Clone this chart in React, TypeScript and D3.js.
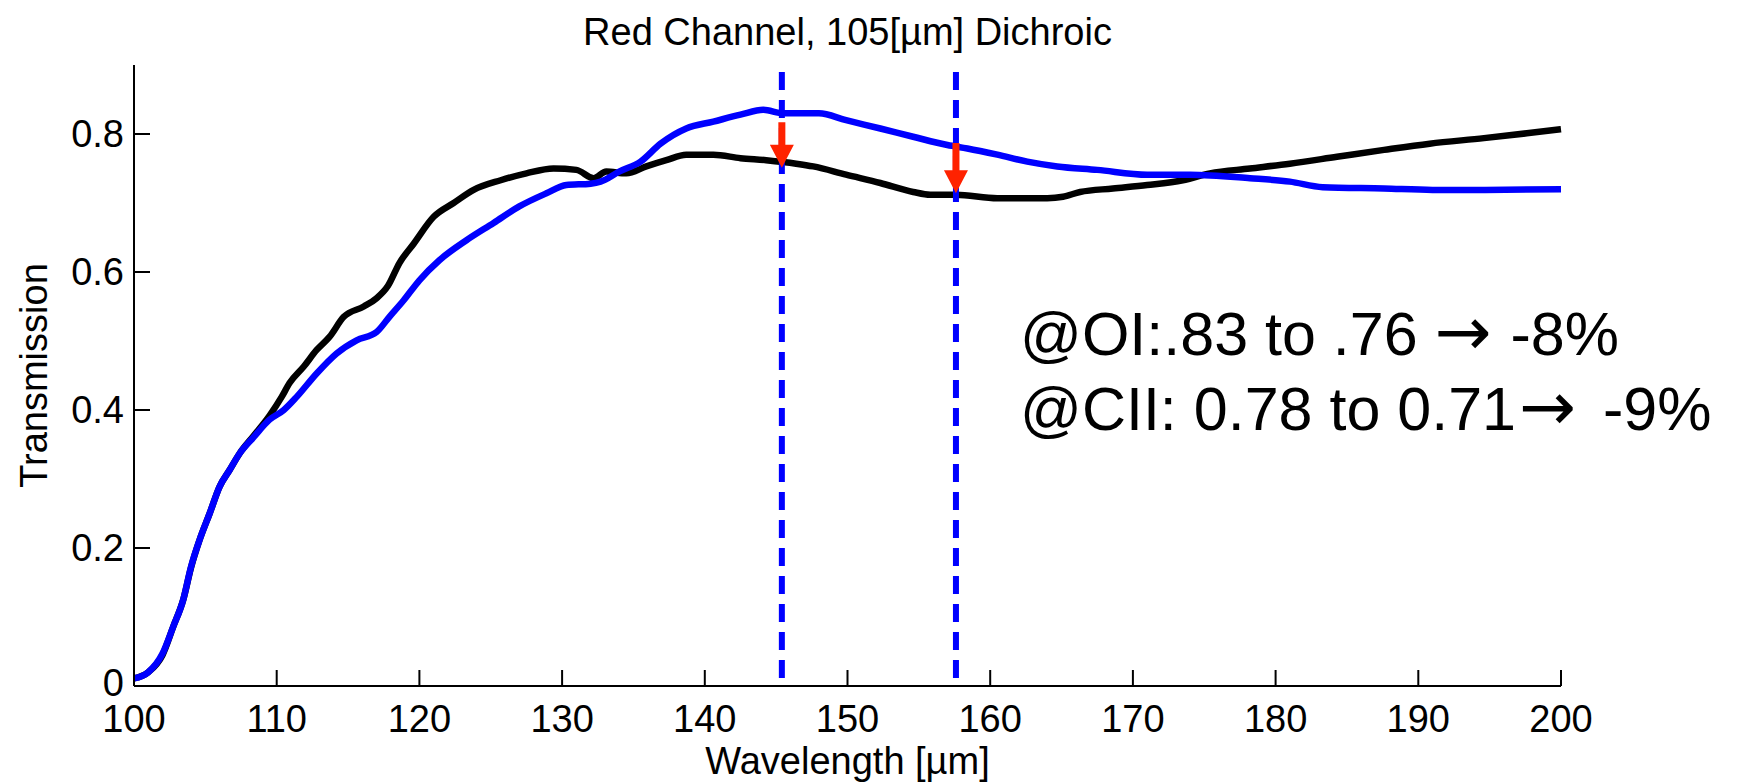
import React from 'react';
import * as d3 from 'd3';

// ---- Data ----
const blackWavelength = [
  100, 101, 102, 102.75, 103.45, 104, 104.6, 105.3, 106, 106.7, 107.4, 108.4, 109.5, 110.35, 110.9,
  111.9, 112.8, 113.7, 114.7, 116.1, 117, 117.8, 118.6, 119.6, 121, 122.4, 123.8, 125.7, 127.5,
  129.4, 131, 132.2, 133.1, 134.5, 135.9, 137.3, 138.7, 140.6, 142.5, 144.3, 146.4, 147.6, 149.9,
  152.3, 154.6, 155.8, 157.6, 160.5, 164, 165.1, 166.3, 168.6, 171, 173.5, 175.4, 178.2, 181,
  184.3, 187.6, 190.8, 194.6, 197.6, 200,
];
const blackTransmission = [
  0.011, 0.02, 0.045, 0.086, 0.125, 0.172, 0.212, 0.25, 0.289, 0.313, 0.337, 0.363, 0.392, 0.419, 0.439,
  0.463, 0.487, 0.506, 0.535, 0.55, 0.562, 0.58, 0.613, 0.641, 0.68, 0.7, 0.719, 0.733, 0.743,
  0.75, 0.748, 0.736, 0.7455, 0.743, 0.753, 0.762, 0.77, 0.77, 0.765, 0.762, 0.757, 0.753, 0.741,
  0.729, 0.716, 0.712, 0.712, 0.707, 0.707, 0.709, 0.716, 0.721, 0.726, 0.733, 0.743, 0.75, 0.757,
  0.767, 0.777, 0.786, 0.794, 0.801, 0.807,
];

const blueWavelength = [
  100, 101, 102, 102.75, 103.45, 104, 104.6, 105.3, 106, 106.7, 107.4, 108.4, 109.5, 110.5, 111.4,
  112.8, 114.2, 115.6, 117, 117.9, 118.9, 120, 121.4, 123.3, 125.2, 127, 128.9, 130.3, 132, 132.7,
  134, 135.5, 136.9, 138.7, 140.6, 142.5, 144.1, 145.5, 148, 149.9, 152.3, 154.6, 157, 158.4,
  160.5, 162.6, 164.7, 167.5, 171, 174, 178.2, 181, 183.3, 187.6, 191, 194.6, 200,
];
const blueTransmission = [
  0.011, 0.02, 0.047, 0.086, 0.125, 0.173, 0.212, 0.25, 0.289, 0.313, 0.337, 0.361, 0.386, 0.4, 0.419,
  0.453, 0.482, 0.501, 0.513, 0.535, 0.559, 0.588, 0.617, 0.646, 0.671, 0.695, 0.714, 0.726, 0.728, 0.731,
  0.7455, 0.76, 0.786, 0.808, 0.818, 0.828, 0.835, 0.83, 0.83, 0.82, 0.808, 0.796, 0.784, 0.779,
  0.77, 0.76, 0.753, 0.748, 0.741, 0.741, 0.736, 0.731, 0.723, 0.721, 0.719, 0.719, 0.72,
];

const xTicks = [100, 110, 120, 130, 140, 150, 160, 170, 180, 190, 200];
const yTicks = [0, 0.2, 0.4, 0.6, 0.8];
const yTickLabels = ['0', '0.2', '0.4', '0.6', '0.8'];

const markerWavelengths = [145.4, 157.6];
const arrowFrom = [0.817, 0.787];
const arrowTo = [0.751, 0.714];

const titleText = 'Red Channel, 105[\u00b5m] Dichroic';
const xLabel = 'Wavelength [\u00b5m]';
const yLabel = 'Transmission';
// each annotation line: [before arrow, arrow, after arrow]
const annotationLines: [string, string, string][] = [
  ['@OI:.83 to .76 ', '\u2192', ' -8%'],
  ['@CII: 0.78 to 0.71', '\u2192', ' -9%'],
];

export default function App() {
  const W = 1748;
  const H = 783;
  const x = d3.scaleLinear().domain([100, 200]).range([134, 1561]);
  const y = d3.scaleLinear().domain([0, 0.9]).range([686, 65]);

  const line = d3
    .line<[number, number]>()
    .x((d) => x(d[0]))
    .y((d) => y(d[1]))
    .curve(d3.curveMonotoneX);

  const blackPts = blackWavelength.map((w, i) => [w, blackTransmission[i]] as [number, number]);
  const bluePts = blueWavelength.map((w, i) => [w, blueTransmission[i]] as [number, number]);

  const font = "'Liberation Sans', Arial, Helvetica, sans-serif";
  const tickLen = 16;
  const headLen = 23;
  const headHalf = 12;
  const shaftHalf = 3.5;

  return (
    <svg
      width={W}
      height={H}
      viewBox={`0 0 ${W} ${H}`}
      style={{ position: 'fixed', left: 0, top: 0, background: '#fff' }}
      fontFamily={font}
    >
      <rect x={0} y={0} width={W} height={H} fill="#fff" />

      {/* curves */}
      <path d={line(blackPts) || ''} fill="none" stroke="#000" strokeWidth={6.5} strokeLinejoin="round" />
      <path d={line(bluePts) || ''} fill="none" stroke="#0000ff" strokeWidth={6.5} strokeLinejoin="round" />

      {/* dashed marker lines */}
      {markerWavelengths.map((w, i) => (
        <line
          key={'m' + i}
          x1={x(w)}
          x2={x(w)}
          y1={y(0.89)}
          y2={y(0.008)}
          stroke="#0000ff"
          strokeWidth={6}
          strokeDasharray="18,10"
        />
      ))}

      {/* red arrows */}
      {markerWavelengths.map((w, i) => {
        const cx = x(w);
        const y0 = y(arrowFrom[i]);
        const tip = y(arrowTo[i]);
        const hb = tip - headLen;
        const d = `M${cx - shaftHalf},${y0} L${cx + shaftHalf},${y0} L${cx + shaftHalf},${hb} L${cx + headHalf},${hb} L${cx},${tip} L${cx - headHalf},${hb} L${cx - shaftHalf},${hb} Z`;
        return <path key={'a' + i} d={d} fill="#ff2200" />;
      })}

      {/* axes */}
      <line x1={x(100)} x2={x(100)} y1={y(0.9)} y2={y(0)} stroke="#000" strokeWidth={2} />
      <line x1={x(100)} x2={x(200)} y1={y(0)} y2={y(0)} stroke="#000" strokeWidth={2} />
      {yTicks.map((t, i) => (
        <g key={'yt' + i}>
          <line x1={x(100)} x2={x(100) + tickLen} y1={y(t)} y2={y(t)} stroke="#000" strokeWidth={2} />
          <text
            x={x(100) - 10}
            y={y(t) - (t === 0 ? 3 : 0)}
            dy="0.34em"
            textAnchor="end"
            fontSize={38}
            fill="#000"
          >
            {yTickLabels[i]}
          </text>
        </g>
      ))}
      {xTicks.map((t, i) => (
        <g key={'xt' + i}>
          <line x1={x(t)} x2={x(t)} y1={y(0)} y2={y(0) - tickLen} stroke="#000" strokeWidth={2} />
          <text x={x(t)} y={732} textAnchor="middle" fontSize={38} fill="#000">
            {t}
          </text>
        </g>
      ))}

      {/* labels */}
      <text x={(x(100) + x(200)) / 2} y={45} textAnchor="middle" fontSize={38} fill="#000">
        {titleText}
      </text>
      <text x={(x(100) + x(200)) / 2} y={774} textAnchor="middle" fontSize={38} fill="#000">
        {xLabel}
      </text>
      <text
        transform={`translate(47, ${(y(0) + y(0.9)) / 2}) rotate(-90)`}
        textAnchor="middle"
        fontSize={38}
        fill="#000"
      >
        {yLabel}
      </text>

      {/* annotation */}
      {annotationLines.map((parts, i) => (
        <text key={'an' + i} x={1020} y={355 + i * 75} fontSize={61} fill="#000">
          <tspan>{parts[0]}</tspan>
          <tspan fontFamily="'DejaVu Sans', sans-serif" fontSize={68} dx={i === 1 ? 3 : 0}>
            {parts[1]}
          </tspan>
          <tspan dx={i === 1 ? 10 : 2}>{parts[2]}</tspan>
        </text>
      ))}
    </svg>
  );
}
